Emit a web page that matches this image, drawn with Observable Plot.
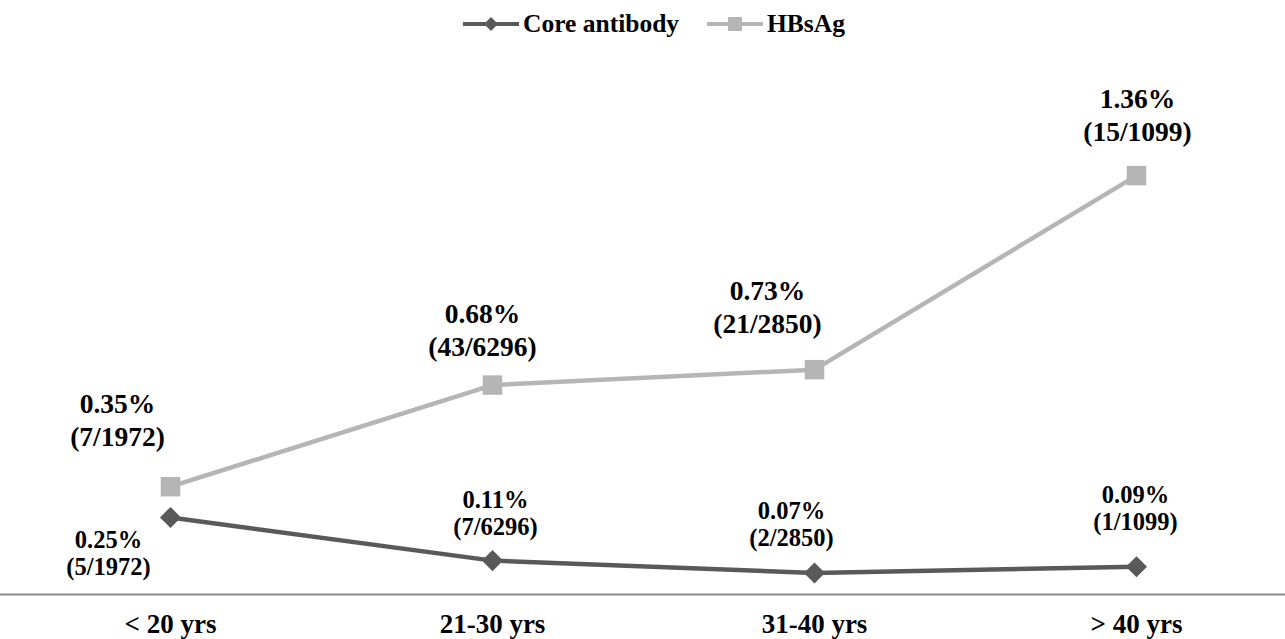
<!DOCTYPE html>
<html><head><meta charset="utf-8">
<script src="https://cdn.jsdelivr.net/npm/d3@7"></script>
<script src="https://cdn.jsdelivr.net/npm/@observablehq/plot@0.6"></script>
<style>
body{margin:0;background:#fff;font-family:"Liberation Serif","Times New Roman",serif;}
#legend{position:relative;height:48px;width:1285px;}
.item{position:absolute;top:0;height:48px;display:flex;align-items:center;font-weight:bold;font-size:25.5px;color:#000;white-space:nowrap;}
.item svg{margin-right:4px;}
</style></head><body>
<div id="legend"></div><div id="chart"></div>
<script>
const categories = ["< 20 yrs", "21-30 yrs", "31-40 yrs", "> 40 yrs"];
const totals = [1972, 6296, 2850, 1099];
const coreCases = [5, 7, 2, 1];
const coreRates = [0.25, 0.11, 0.07, 0.09];
const hbsCases = [7, 43, 21, 15];
const hbsRates = [0.35, 0.68, 0.73, 1.36];
const seriesNames = ["Core antibody", "HBsAg"];

const coreColor = "#595959", hbsColor = "#b5b5b5";

const mk = (rates, cases) => categories.map((c, i) => ({
  cat: c, rate: rates[i],
  label: `${rates[i].toFixed(2)}%\n(${cases[i]}/${totals[i]})`
}));
const coreData = mk(coreRates, coreCases);
const hbsData = mk(hbsRates, hbsCases);

// label placement (manual, like the original)
const coreOff = [[-62, 35], [3, -48], [-23, -49], [-1, -59]];
const hbsOff = [[-53, -68], [-10, -56], [-47, -64], [1, -62]];

// legend
const legend = document.getElementById("legend");
const items = [
  {name: seriesNames[0], color: coreColor, left: 463, shape: `<path d="M28,3L35,10L28,17L21,10Z" fill="${coreColor}"/>`},
  {name: seriesNames[1], color: hbsColor, left: 707, shape: `<rect x="21" y="3" width="14" height="14" fill="${hbsColor}"/>`}
];
for (const it of items) {
  const d = document.createElement("div");
  d.className = "item";
  d.style.left = it.left + "px";
  d.innerHTML = `<svg width="56" height="20"><line x1="0" x2="56" y1="10" y2="10" stroke="${it.color}" stroke-width="4"/>${it.shape}</svg><span>${it.name}</span>`;
  legend.appendChild(d);
}

const labelMarks = (data, off, size, lh) => data.map((d, i) => Plot.text([d], {
  x: "cat", y: "rate", text: "label", dx: off[i][0], dy: off[i][1],
  fontSize: size, lineHeight: lh, fill: "#000", fontWeight: "bold"
}));

const chart = Plot.plot({
  width: 1285, height: 591,
  marginTop: 0, marginLeft: 0, marginRight: 0, marginBottom: 45,
  style: {fontFamily: "'Liberation Serif', 'Times New Roman', serif", fontWeight: "bold", color: "#000", background: "#fff"},
  x: {type: "point", domain: categories, range: [170, 1136], padding: 0},
  y: {domain: [0, 1.6], range: [546, 53.2], axis: null},
  marks: [
    Plot.ruleY([0], {stroke: "#8a8a8a", strokeWidth: 2}),
    Plot.axisX({tickSize: 0, tickPadding: 19, fontSize: 27, fontWeight: "bold", label: null}),
    Plot.line(hbsData, {x: "cat", y: "rate", stroke: hbsColor, strokeWidth: 4.5}),
    Plot.line(coreData, {x: "cat", y: "rate", stroke: coreColor, strokeWidth: 4.5}),
    Plot.dot(hbsData, {x: "cat", y: "rate", symbol: "square", r: 11, fill: hbsColor, stroke: "none"}),
    Plot.dot(coreData, {x: "cat", y: "rate", symbol: "diamond2", r: 9.5, fill: coreColor, stroke: "none"}),
    ...labelMarks(hbsData, hbsOff, 27.5, 1.2),
    ...labelMarks(coreData, coreOff, 24.5, 1.12)
  ]
});
document.getElementById("chart").appendChild(chart);
</script>
</body></html>
